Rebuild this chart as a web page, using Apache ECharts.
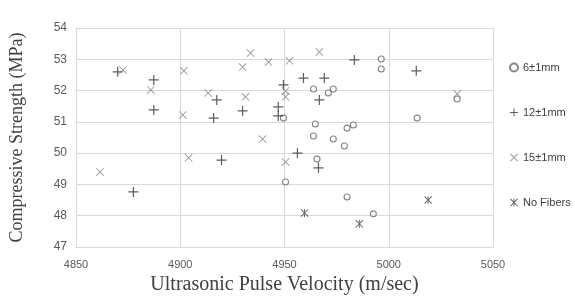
<!DOCTYPE html>
<html><head><meta charset="utf-8">
<script src="https://cdn.jsdelivr.net/npm/echarts@6/dist/echarts.min.js"></script>
<style>html,body{margin:0;padding:0;background:#fff}#c{width:575px;height:302px}</style>
</head><body><div id="c"></div>
<script>
const seriesNames = ['6\u00b11mm', '12\u00b11mm', '15\u00b11mm', 'No Fibers'];
const fiber6 = [[4996.4,53.01],[4996.4,52.69],[5032.8,51.73],[5013.6,51.12],[4963.9,52.05],[4971,51.92],[4973.4,52.05],[4949.5,51.12],[4964.8,50.93],[4980,50.8],[4983,50.9],[4963.9,50.55],[4973.4,50.45],[4978.7,50.23],[4965.6,49.81],[4950.5,49.08],[4980,48.6],[4992.6,48.06]];
const fiber12 = [[4870,52.6],[4887.3,52.34],[4887.3,51.38],[4917.5,51.7],[4916,51.12],[4929.9,51.35],[4947,51.48],[4947,51.19],[4949.5,52.18],[4959.1,52.4],[4969.1,52.4],[4966.7,51.7],[4983.5,52.98],[5013.2,52.63],[4877.5,48.76],[4919.8,49.78],[4956.2,50.0],[4966.3,49.53]];
const fiber15 = [[4872.5,52.66],[4885.9,52.02],[4901.7,52.63],[4901.2,51.22],[4913.4,51.92],[4933.7,53.2],[4929.9,52.75],[4942.3,52.91],[4952.4,52.95],[4966.7,53.23],[4931.3,51.8],[4950.5,51.8],[4950.5,51.99],[4861.5,49.4],[4904,49.85],[4939.5,50.45],[4950.5,49.72],[5032.8,51.89]];
const noFibers = [[4959.6,48.09],[4985.9,47.74],[5018.9,48.5]];
const xTicks = [4850, 4900, 4950, 5000, 5050];
const yTicks = [47, 48, 49, 50, 51, 52, 53, 54];

const plusPath = 'path://M4.4,0h1.2v10h-1.2z M0,4.4h10v1.2h-10z';
const xPath = 'path://M0,0.8 L0.8,0 L10,9.2 L9.2,10 Z M9.2,0 L10,0.8 L0.8,10 L0,9.2 Z';
const starPath = 'path://M0,0.9 L0.9,0 L10,9.1 L9.1,10 Z M9.1,0 L10,0.9 L0.9,10 L0,9.1 Z M4.4,0h1.2v10h-1.2z';

const chart = echarts.init(document.getElementById('c'), null, {renderer: 'canvas'});
const gridColor = '#d9d9d9';
chart.setOption({
  animation: false,
  backgroundColor: '#fff',
  grid: {left: 75, right: 82, top: 28, bottom: 55},
  legend: {
    orient: 'vertical', left: 504, top: 57, itemGap: 34,
    itemWidth: 8, itemHeight: 8,
    textStyle: {color: '#404040', fontSize: 11, fontFamily: 'Liberation Sans, Arial, sans-serif'},
    data: seriesNames
  },
  xAxis: {
    type: 'value', min: xTicks[0], max: xTicks[xTicks.length - 1], interval: 50,
    name: 'Ultrasonic Pulse Velocity (m/sec)', nameLocation: 'middle', nameGap: 28,
    nameTextStyle: {fontFamily: 'Liberation Serif, Times New Roman, serif', fontSize: 20, color: '#404040'},
    axisLine: {show: true, lineStyle: {color: gridColor}},
    axisTick: {show: false},
    axisLabel: {color: '#595959', fontSize: 11, fontFamily: 'Liberation Sans, Arial, sans-serif', margin: 12,
      formatter: v => String(v)},
    splitLine: {show: true, lineStyle: {color: gridColor}}
  },
  yAxis: {
    type: 'value', min: yTicks[0], max: yTicks[yTicks.length - 1], interval: 1,
    name: 'Compressive Strength (MPa)', nameLocation: 'middle', nameGap: 50,
    nameTextStyle: {fontFamily: 'Liberation Serif, Times New Roman, serif', fontSize: 18, color: '#404040'},
    axisLine: {show: true, lineStyle: {color: gridColor}},
    axisTick: {show: false},
    axisLabel: {color: '#595959', fontSize: 12, fontFamily: 'Liberation Sans, Arial, sans-serif', margin: 9},
    splitLine: {show: true, lineStyle: {color: gridColor}}
  },
  series: [
    {name: seriesNames[0], type: 'scatter', data: fiber6, symbol: 'circle', symbolSize: 6,
     itemStyle: {color: '#fff', borderColor: '#666', borderWidth: 1.1}},
    {name: seriesNames[1], type: 'scatter', data: fiber12, symbol: plusPath, symbolSize: 10,
     itemStyle: {color: '#333'}},
    {name: seriesNames[2], type: 'scatter', data: fiber15, symbol: xPath, symbolSize: 8,
     itemStyle: {color: '#808080'}},
    {name: seriesNames[3], type: 'scatter', data: noFibers, symbol: starPath, symbolSize: 8,
     itemStyle: {color: '#444'}}
  ]
});
</script></body></html>
